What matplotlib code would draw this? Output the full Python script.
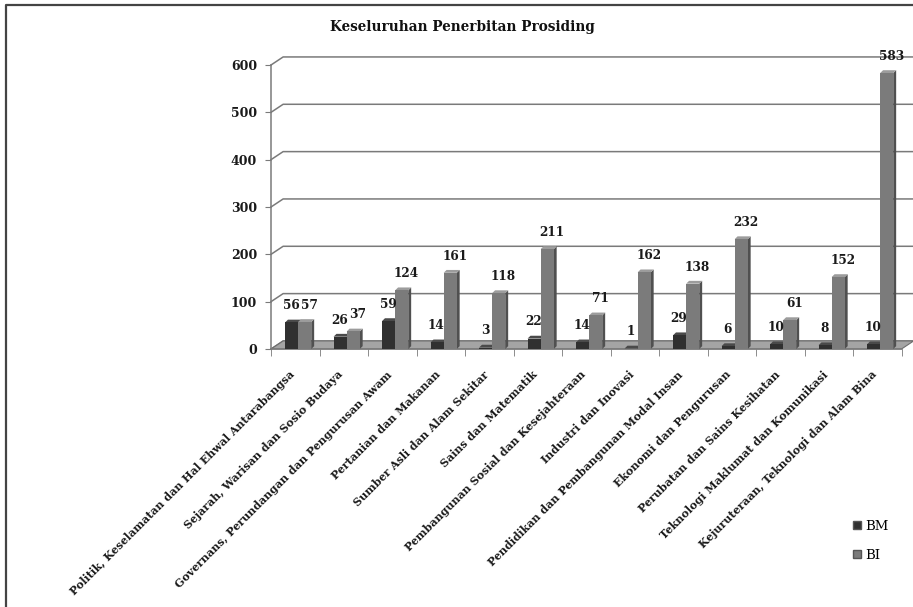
import numpy as np
import matplotlib
matplotlib.use("Agg")
import matplotlib.pyplot as plt
from matplotlib.patches import Polygon, Rectangle, Patch
from matplotlib.lines import Line2D

# bidang penerbitan prosiding, BM vs BI
categories = [
    "Politik, Keselamatan dan Hal Ehwal Antarabangsa",
    "Sejarah, Warisan dan Sosio Budaya",
    "Governans, Perundangan dan Pengurusan Awam",
    "Pertanian dan Makanan",
    "Sumber Asli dan Alam Sekitar",
    "Sains dan Matematik",
    "Pembangunan Sosial dan Kesejahteraan",
    "Industri dan Inovasi",
    "Pendidikan dan Pembangunan Modal Insan",
    "Ekonomi dan Pengurusan",
    "Perubatan dan Sains Kesihatan",
    "Teknologi Maklumat dan Komunikasi",
    "Kejuruteraan, Teknologi dan Alam Bina",
]
bm = [56, 26, 59, 14, 3, 22, 14, 1, 29, 6, 10, 8, 10]
bi = [57, 37, 124, 161, 118, 211, 71, 162, 138, 232, 61, 152, 583]
yticks = [0, 100, 200, 300, 400, 500, 600]

FONT = "DejaVu Serif"
DX, DY = 0.25, 17      # depth of the back wall / floor
BDX, BDY = 0.06, 6     # depth of each bar
W = 0.27

n = len(categories)
fig = plt.figure(figsize=(9.13, 6.07), dpi=100)
ax = fig.add_axes([271 / 913, 1 - 349 / 607, (13 * 48.5) / 913, 284 / 607])
ax.set_xlim(0, n)
ax.set_ylim(0, 600)

# grid on the back wall, with the diagonal back to the axis
for v in yticks:
    ax.plot([0, DX, n + DX + 0.05], [v, v + DY, v + DY], color="#7a7a7a",
            lw=1.1, clip_on=False, zorder=1)

# floor
floor = Polygon([(0, 0), (n, 0), (n + DX, DY), (DX, DY)], closed=True,
                facecolor="#a4a4a4", edgecolor="#6e6e6e", lw=0.8,
                clip_on=False, zorder=2)
ax.add_patch(floor)


def bar3d(x0, h, front, side, top):
    ax.add_patch(Polygon([(x0 + W, 0), (x0 + W + BDX, BDY),
                          (x0 + W + BDX, h + BDY), (x0 + W, h)],
                         facecolor=side, edgecolor="none", clip_on=False, zorder=3))
    ax.add_patch(Polygon([(x0, h), (x0 + BDX, h + BDY),
                          (x0 + W + BDX, h + BDY), (x0 + W, h)],
                         facecolor=top, edgecolor="none", clip_on=False, zorder=3))
    ax.add_patch(Rectangle((x0, 0), W, h, facecolor=front, edgecolor="none",
                           clip_on=False, zorder=4))


for i in range(n):
    x_bm = i + 0.29
    x_bi = i + 0.29 + W
    bar3d(x_bm, bm[i], "#303030", "#1a1a1a", "#4a4a4a")
    bar3d(x_bi, bi[i], "#7b7b7b", "#505050", "#9c9c9c")
    # BI labels sit a little right of their bar
    for x0, v, dx in [(x_bm, bm[i], -0.5), (x_bi, bi[i], 3.5)]:
        ax.annotate(str(v), (x0 + W / 2, v), xytext=(dx, 12),
                    textcoords="offset points", ha="center", va="center",
                    fontsize=8.7, fontweight="bold", family=FONT, color="#1a1a1a",
                    zorder=6)

for s in ["top", "right"]:
    ax.spines[s].set_visible(False)
for s in ["left", "bottom"]:
    ax.spines[s].set_color("#7a7a7a")
    ax.spines[s].set_linewidth(1.1)

ax.set_yticks(yticks)
ax.set_yticklabels([str(t) for t in yticks], fontsize=9, fontweight="bold",
                   family=FONT, color="#1a1a1a")
ax.tick_params(axis="y", length=4, color="#7a7a7a", pad=6)

ax.set_xticks(np.arange(n + 1), minor=True)
ax.set_xticks(np.arange(n) + 0.45)
ax.set_xticklabels(categories, fontsize=7.9, fontweight="bold", family=FONT,
                   color="#1a1a1a", rotation=45, ha="right", va="center",
                   rotation_mode="anchor")
ax.tick_params(axis="x", which="major", length=0, pad=17)
ax.tick_params(axis="x", which="minor", length=5, color="#7a7a7a")

fig.text(462 / 913, 1 - 27 / 607, "Keseluruhan Penerbitan Prosiding",
         ha="center", va="center", fontsize=9.8, fontweight="bold", family=FONT,
         color="#111111")

handles = [Patch(facecolor="#303030", edgecolor="#555555", label="BM"),
           Patch(facecolor="#7b7b7b", edgecolor="#555555", label="BI")]
fig.legend(handles=handles, loc="upper left", bbox_to_anchor=(841 / 913, 1 - 508 / 607),
           frameon=False, handlelength=0.6, handleheight=0.6, handletextpad=0.3,
           labelspacing=1.2, prop={"family": FONT, "size": 9.5})

# outer frame (top and left edges)
fig.add_artist(Line2D([6 / 913, 6 / 913, 1], [0, 1 - 5 / 607, 1 - 5 / 607],
                      transform=fig.transFigure, color="#444444", lw=1.6))

fig.savefig("out.png", dpi=100)
